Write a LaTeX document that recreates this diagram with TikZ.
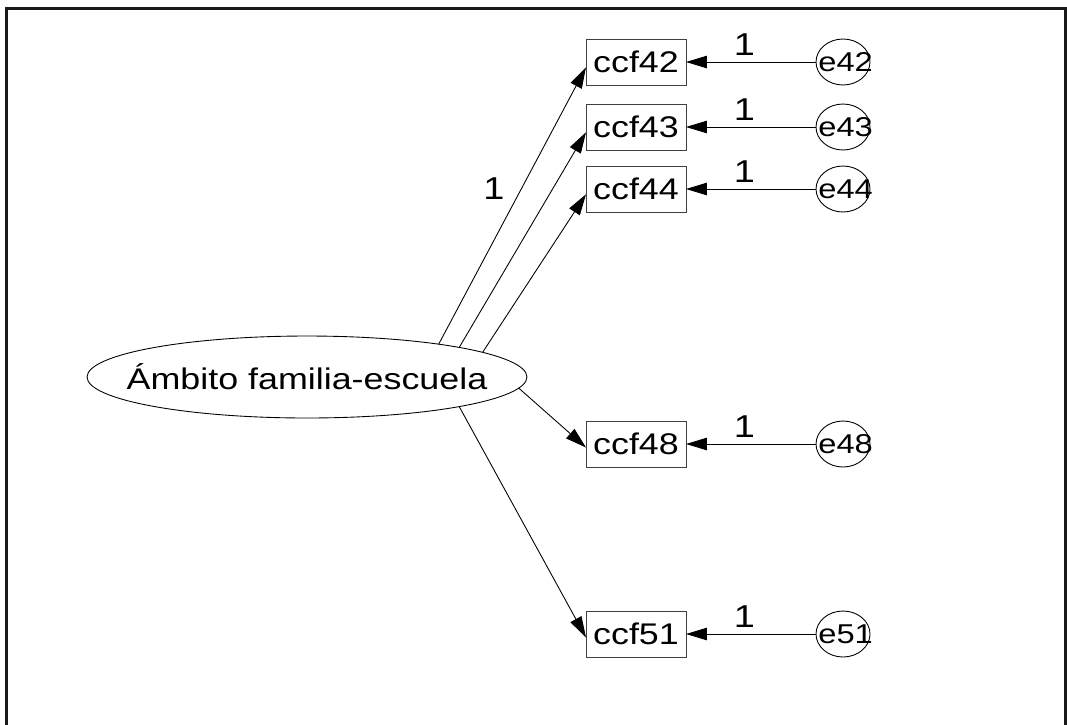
\documentclass[tikz,border=0pt]{standalone}
\usepackage{xcolor}
\usepackage{fontspec}
\setmainfont[FakeStretch=1.2]{Liberation Sans}
\usepackage{tikz}
\usetikzlibrary{arrows.meta,shapes.geometric}

\begin{document}
\begin{tikzpicture}[x=0.02cm,y=-0.02cm,
                    obs/.style={draw=black!75,line width=0.5pt,minimum width=2cm,minimum height=0.92cm,inner sep=0pt,outer sep=0pt,font=\fontsize{17}{20}\selectfont},
                    err/.style={draw,ellipse,line width=0.5pt,minimum width=1.08cm,minimum height=0.92cm,inner sep=0pt,outer sep=0pt,font=\fontsize{15.5}{18}\selectfont},
                    path/.style={line width=0.5pt,-{Triangle[length=0.42cm,width=0.25cm]}},
                    one/.style={font=\fontsize{18}{21}\selectfont}]
                    \useasboundingbox (0,0) rectangle (1067,724);
                    \draw[line width=1.7pt,color=black!90] (6.5,730) -- (6.5,8.5) -- (1065,8.5) -- (1065,730);

                    \node[draw,ellipse,line width=0.5pt,minimum width=8.8cm,minimum height=1.64cm,inner sep=0pt,outer sep=0pt,font=\fontsize{17}{20}\selectfont] (lat) at (307,377) {\makebox[0pt]{Ámbito familia-escuela}};

                    \node[obs] (ccf42) at (636,62) {ccf42};
                    \node[obs] (ccf43) at (636,127) {ccf43};
                    \node[obs] (ccf44) at (636,189) {ccf44};
                    \node[obs] (ccf48) at (636,444) {ccf48};
                    \node[obs] (ccf51) at (636,634) {ccf51};

                    \node[err] (e42) at (843,62) {\makebox[0pt]{\hspace*{3pt}e42}};
                    \node[err] (e43) at (843,127) {\makebox[0pt]{\hspace*{3pt}e43}};
                    \node[err] (e44) at (843,189) {\makebox[0pt]{\hspace*{3pt}e44}};
                    \node[err] (e48) at (843,444) {\makebox[0pt]{\hspace*{3pt}e48}};
                    \node[err] (e51) at (843,634) {\makebox[0pt]{\hspace*{3pt}e51}};

                    \draw[path] (lat.14) -- ([yshift=-3pt]ccf42.west) node[one,pos=0.56,left=6pt] {1};
                    \draw[path] (lat.11) -- ([yshift=-3pt]ccf43.west);
                    \draw[path] (lat.8.5) -- ([yshift=-3pt]ccf44.west);
                    \draw[path] (lat.-3.3) -- ([yshift=-2pt]ccf48.west);
                    \draw[path] (lat.-11.7) -- ([yshift=-2pt]ccf51.west);

                    \foreach \i in {42,43,44,48,51}
                        \draw[path] (e\i.west) -- (ccf\i.east) node[one,pos=0.55,above] {1};
\end{tikzpicture}
\end{document}
